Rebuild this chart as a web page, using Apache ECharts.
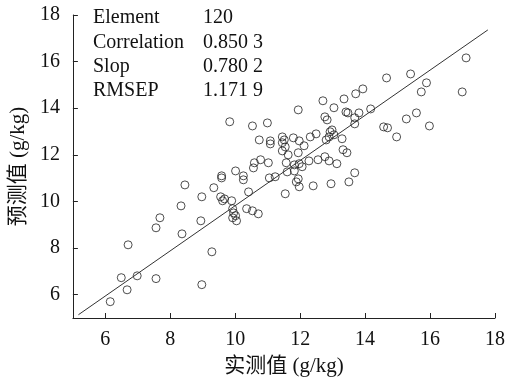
<!DOCTYPE html>
<html>
<head>
<meta charset="utf-8">
<script src="https://cdn.jsdelivr.net/npm/echarts@6/dist/echarts.min.js"></script>
<style>
    html, body { margin: 0; padding: 0; background: #fff; }
    #main { width: 508px; height: 386px; }
</style>
</head>
<body>
<div id="main"></div>
<script>
// 实测值
var measured = [
    6.15, 6.67, 6.49, 6.98, 7.56, 8.97, 6.70, 7.56, 7.68, 8.36,
    8.33, 8.45, 8.94, 9.28, 8.97, 9.34, 9.55, 9.61, 9.89, 9.58,
    9.58, 10.01, 10.25, 10.25, 10.41, 9.92, 9.95, 9.92, 10.04, 10.35,
    10.53, 10.71, 9.83, 10.53, 10.99, 11.94, 12.70, 13.35, 13.04, 13.41,
    13.47, 10.74, 11.08, 11.08, 11.45, 11.45, 11.45, 11.79, 11.97, 12.12,
    12.31, 12.49, 12.76, 12.83, 12.98, 13.04, 12.80, 12.89, 13.29, 11.63,
    11.94, 12.27, 12.55, 12.76, 12.89, 13.13, 13.32, 13.44, 10.78, 10.59,
    10.56, 11.02, 11.57, 11.60, 11.82, 11.97, 12.06, 11.05, 11.23, 11.54,
    11.82, 11.94, 11.88, 11.97, 12.40, 12.95, 13.50, 13.68, 17.11, 15.40,
    14.66, 13.93, 13.71, 15.89, 15.73, 16.99, 13.81, 14.17, 13.68, 13.68,
    15.58, 15.27, 14.57, 14.69, 14.97, 15.98, 12.92, 10.01, 11.54, 9.67,
    11.51
];
// 预测值
var predicted = [
    5.70, 6.21, 6.73, 6.81, 6.69, 6.43, 8.14, 8.87, 9.30, 8.61,
    9.81, 10.71, 9.17, 7.84, 10.20, 10.59, 10.20, 10.03, 10.03, 11.10,
    11.01, 11.31, 11.10, 10.93, 10.41, 9.69, 9.51, 9.30, 9.17, 9.69,
    9.60, 9.47, 13.42, 13.24, 13.37, 13.93, 14.32, 14.40, 14.02, 13.84,
    13.80, 12.64, 12.60, 12.47, 12.77, 12.52, 12.17, 12.73, 12.60, 12.39,
    12.77, 12.90, 13.63, 13.50, 13.07, 12.86, 12.64, 12.77, 12.69, 12.00,
    12.09, 11.74, 11.79, 11.92, 11.74, 11.62, 12.22, 12.09, 11.79, 11.66,
    11.44, 11.66, 11.66, 11.27, 11.57, 11.62, 11.49, 11.01, 11.06, 10.33,
    11.31, 10.97, 10.84, 10.63, 10.67, 10.76, 10.84, 11.23, 16.16, 15.47,
    15.30, 14.83, 14.62, 15.09, 14.70, 14.70, 13.80, 13.97, 13.59, 13.33,
    13.80, 13.54, 13.20, 13.16, 12.77, 13.24, 12.99, 9.39, 12.34, 10.11,
    12.64
];
// 拟合线端点
var fitX = [5.17, 17.78];
var fitY = [5.14, 17.36];
var tickValues = [6, 8, 10, 12, 14, 16, 18];
var statNames = ["Element", "Correlation", "Slop", "RMSEP"];
var statValues = ["120", "0.850 3", "0.780 2", "1.171 9"];

var serif = "'Liberation Serif', 'Times New Roman', 'Noto Sans CJK SC', serif";

var points = [];
measured.forEach(function (x, i) {
    points.push([x, predicted[i]]);
});
var fitLine = [[fitX[0], fitY[0]], [fitX[1], fitY[1]]];

var statText = [];
statNames.forEach(function (name, i) {
    statText.push({
        type: "text",
        left: 93,
        top: 8 + i * 24.4,
        style: {text: name, font: "20px " + serif, fill: "#111"}
    });
    statText.push({
        type: "text",
        left: 203,
        top: 8 + i * 24.4,
        style: {text: statValues[i], font: "20px " + serif, fill: "#111"}
    });
});

var chart = echarts.init(document.getElementById("main"));
chart.setOption({
    animation: false,
    backgroundColor: "#fff",
    grid: {left: 72, right: 11, top: 15, bottom: 68},
    graphic: statText,
    xAxis: {
        type: "value",
        min: 5,
        max: 18,
        name: "实测值 (g/kg)",
        nameLocation: "middle",
        nameGap: 38,
        nameTextStyle: {fontFamily: serif, fontSize: 21, color: "#111"},
        splitLine: {show: false},
        axisLine: {lineStyle: {color: "#222", width: 1}},
        axisTick: {inside: true, length: 5, customValues: tickValues, lineStyle: {color: "#222"}},
        axisLabel: {customValues: tickValues, fontFamily: serif, fontSize: 20, color: "#111", margin: 12}
    },
    yAxis: {
        type: "value",
        min: 5,
        max: 18,
        name: "预测值 (g/kg)",
        nameLocation: "middle",
        nameGap: 43,
        nameTextStyle: {fontFamily: serif, fontSize: 21, color: "#111"},
        splitLine: {show: false},
        axisLine: {show: true, lineStyle: {color: "#222", width: 1}},
        axisTick: {show: true, inside: true, length: 5, customValues: tickValues, lineStyle: {color: "#222"}},
        axisLabel: {customValues: tickValues, fontFamily: serif, fontSize: 20, color: "#111", margin: 13}
    },
    series: [
        {
            type: "line",
            data: fitLine,
            symbol: "none",
            lineStyle: {color: "#333", width: 1},
            silent: true
        },
        {
            type: "scatter",
            data: points,
            symbol: "circle",
            symbolSize: 8,
            itemStyle: {color: "rgba(0,0,0,0)", borderColor: "#222", borderWidth: 1}
        }
    ]
});
</script>
</body>
</html>
